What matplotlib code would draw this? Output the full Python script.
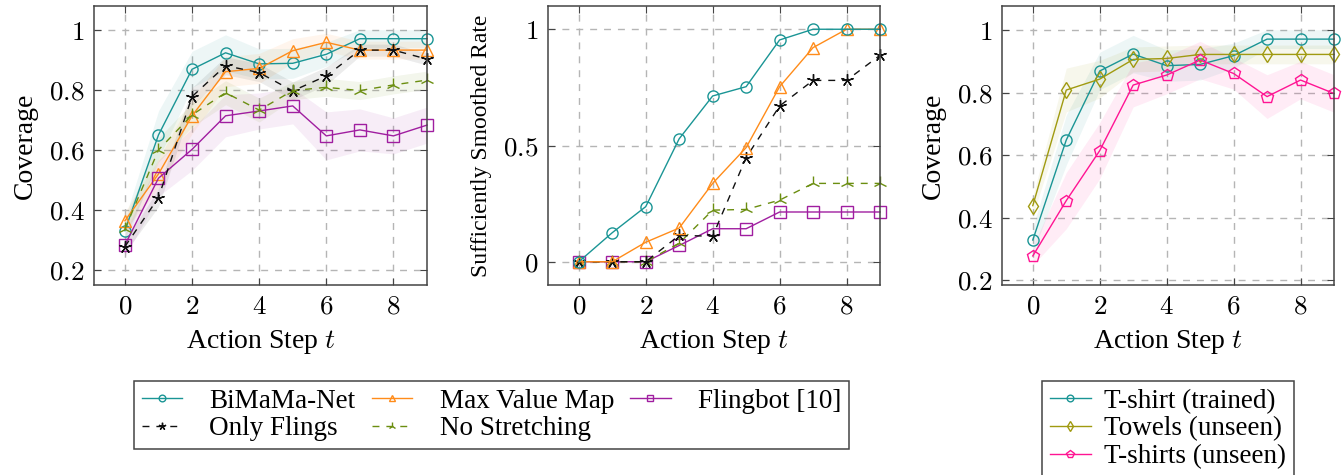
import numpy as np
import matplotlib
matplotlib.use('Agg')
import matplotlib.pyplot as plt

plt.rcParams['font.family'] = ['Liberation Serif', 'DejaVu Serif']
plt.rcParams['mathtext.fontset'] = 'cm'

steps = np.arange(10)

# coverage, left panel
cov_bimama = [0.331, 0.65, 0.869, 0.924, 0.887, 0.889, 0.919, 0.971, 0.971, 0.971]
cov_maxval = [0.364, 0.52, 0.714, 0.861, 0.872, 0.931, 0.959, 0.933, 0.933, 0.933]
cov_fling = [0.283, 0.506, 0.602, 0.714, 0.73, 0.747, 0.647, 0.667, 0.647, 0.683]
cov_only = [0.278, 0.441, 0.778, 0.881, 0.858, 0.797, 0.847, 0.933, 0.933, 0.903]
cov_nostretch = [0.336, 0.60, 0.717, 0.791, 0.733, 0.798, 0.809, 0.798, 0.817, 0.833]

std_bimama = [0.04, 0.08, 0.06, 0.06, 0.05, 0.05, 0.04, 0.03, 0.03, 0.03]
std_maxval = [0.03, 0.05, 0.06, 0.05, 0.05, 0.04, 0.03, 0.03, 0.03, 0.03]
std_fling = [0.04, 0.06, 0.07, 0.07, 0.06, 0.06, 0.08, 0.07, 0.06, 0.06]
std_only = [0.02, 0.03, 0.03, 0.03, 0.03, 0.03, 0.03, 0.02, 0.02, 0.02]
std_nostretch = [0.03, 0.04, 0.04, 0.04, 0.04, 0.03, 0.03, 0.03, 0.03, 0.03]

# sufficiently smoothed rate, middle panel
rate_bimama = [0, 0.125, 0.237, 0.529, 0.713, 0.753, 0.954, 1, 1, 1]
rate_maxval = [0, 0, 0.084, 0.145, 0.337, 0.491, 0.753, 0.921, 1, 1]
rate_only = [0, 0, 0, 0.113, 0.110, 0.448, 0.670, 0.780, 0.780, 0.888]
rate_nostretch = [0, 0, 0, 0.08, 0.222, 0.225, 0.265, 0.337, 0.337, 0.337]
rate_fling = [0, 0, 0, 0.070, 0.142, 0.142, 0.214, 0.214, 0.214, 0.214]

# generalisation, right panel
gen_trained = [0.328, 0.648, 0.869, 0.923, 0.886, 0.89, 0.918, 0.971, 0.971, 0.971]
gen_towels = [0.438, 0.808, 0.843, 0.906, 0.909, 0.922, 0.922, 0.922, 0.922, 0.922]
gen_tshirts = [0.277, 0.454, 0.614, 0.824, 0.856, 0.904, 0.861, 0.787, 0.84, 0.797]

std_trained = std_bimama
std_towels = [0.03, 0.07, 0.06, 0.04, 0.04, 0.03, 0.03, 0.03, 0.03, 0.03]
std_tshirts = [0.03, 0.09, 0.09, 0.07, 0.06, 0.06, 0.05, 0.07, 0.06, 0.06]

teal = '#1a9595'
orange = '#ff8c1a'
purple = '#a01ea0'
black = '#111111'
olive = '#6b8e10'
olive2 = '#a09a10'
pink = '#ff1493'

W, H = 1343, 475
fig = plt.figure(figsize=(W / 100, H / 100), dpi=100)

def make_ax(left, right, ylim, yticks):
    ax = fig.add_axes([left / W, 1 - 285 / H, (right - left) / W, 279 / H])
    ax.set_xlim(-0.92, 9)
    ax.set_ylim(*ylim)
    ax.set_xticks([0, 2, 4, 6, 8])
    ax.set_xticklabels(['$%d$' % v for v in [0, 2, 4, 6, 8]])
    ax.set_yticks(yticks)
    ax.set_yticklabels(['$%g$' % v for v in yticks])
    ax.tick_params(direction='in', top=True, right=True, length=5, width=0.8,
                   color='#444444', labelsize=19.5, pad=7)
    ax.grid(True, color='#b5b5b5', linestyle=(0, (5, 5)), linewidth=1)
    ax.set_axisbelow(True)
    for s in ax.spines.values():
        s.set_color('#444444')
        s.set_linewidth(1.1)
    ax.set_xlabel('Action Step $t$', fontsize=20, labelpad=6)
    return ax

def series(ax, y, color, marker, ls='-', label=None, std=None, ms=8):
    if std is not None:
        y_arr = np.array(y)
        s_arr = np.array(std)
        ax.fill_between(steps, y_arr - s_arr, y_arr + s_arr, color=color,
                        alpha=0.08, linewidth=0)
    return ax.plot(steps, y, color=color, linestyle=ls, linewidth=1.0,
                   marker=marker, markersize=ms, markerfacecolor='none',
                   markeredgewidth=1.0, label=label, clip_on=False,
                   dashes=(5, 5) if ls == '--' else (None, None))[0]

# left panel
ax1 = make_ax(94, 427, (0.15, 1.08), [0.2, 0.4, 0.6, 0.8, 1])
ax1.set_ylabel('Coverage', fontsize=20, labelpad=8)
h_bim = series(ax1, cov_bimama, teal, 'o', label='BiMaMa-Net', std=std_bimama)
h_max = series(ax1, cov_maxval, orange, '^', label='Max Value Map', std=std_maxval)
h_fli = series(ax1, cov_fling, purple, 's', label='Flingbot [10]', std=std_fling)
h_onl = series(ax1, cov_only, black, (5, 2, 0), ls='--', label='Only Flings', std=std_only, ms=9)
h_nos = series(ax1, cov_nostretch, olive, '2', ls='--', label='No Stretching', std=std_nostretch, ms=10)

# middle panel
ax2 = make_ax(548, 880, (-0.1, 1.1), [0, 0.5, 1])
ax2.set_ylabel('Sufficiently Smoothed Rate', fontsize=17, labelpad=8)
series(ax2, rate_fling, purple, 's')
series(ax2, rate_nostretch, olive, '2', ls='--', ms=10)
series(ax2, rate_only, black, (5, 2, 0), ls='--', ms=9)
series(ax2, rate_maxval, orange, '^')
series(ax2, rate_bimama, teal, 'o')

# right panel
ax3 = make_ax(1002, 1334, (0.184, 1.077), [0.2, 0.4, 0.6, 0.8, 1])
ax3.set_ylabel('Coverage', fontsize=20, labelpad=8)
g1 = series(ax3, gen_trained, teal, 'o', label='T-shirt (trained)', std=std_trained)
g2 = series(ax3, gen_towels, olive2, 'd', label='Towels (unseen)', std=std_towels)
g3 = series(ax3, gen_tshirts, pink, 'p', label='T-shirts (unseen)', std=std_tshirts, ms=9)

leg1 = fig.legend([h_bim, h_onl, h_max, h_nos, h_fli],
                  ['BiMaMa-Net', 'Only Flings', 'Max Value Map', 'No Stretching', 'Flingbot [10]'],
                  ncol=3, loc='center', bbox_to_anchor=(491.5 / W, 1 - 415 / H),
                  fontsize=19.5, markerscale=0.6, handlelength=1.5, handletextpad=1.0,
                  columnspacing=0.6, labelspacing=0.1, borderpad=0.3,
                  fancybox=False, edgecolor='#444444', framealpha=1)
leg1.get_frame().set_linewidth(1.1)

leg3 = fig.legend([g1, g2, g3], ['T-shirt (trained)', 'Towels (unseen)', 'T-shirts (unseen)'],
                  loc='upper center', bbox_to_anchor=(1168 / W, 1 - 367 / H),
                  fontsize=19.5, markerscale=0.6, handlelength=1.5, handletextpad=0.5,
                  labelspacing=0.1, borderpad=0.3,
                  fancybox=False, edgecolor='#444444', framealpha=1)
leg3.get_frame().set_linewidth(1.1)

plt.savefig('out.png', dpi=100)
